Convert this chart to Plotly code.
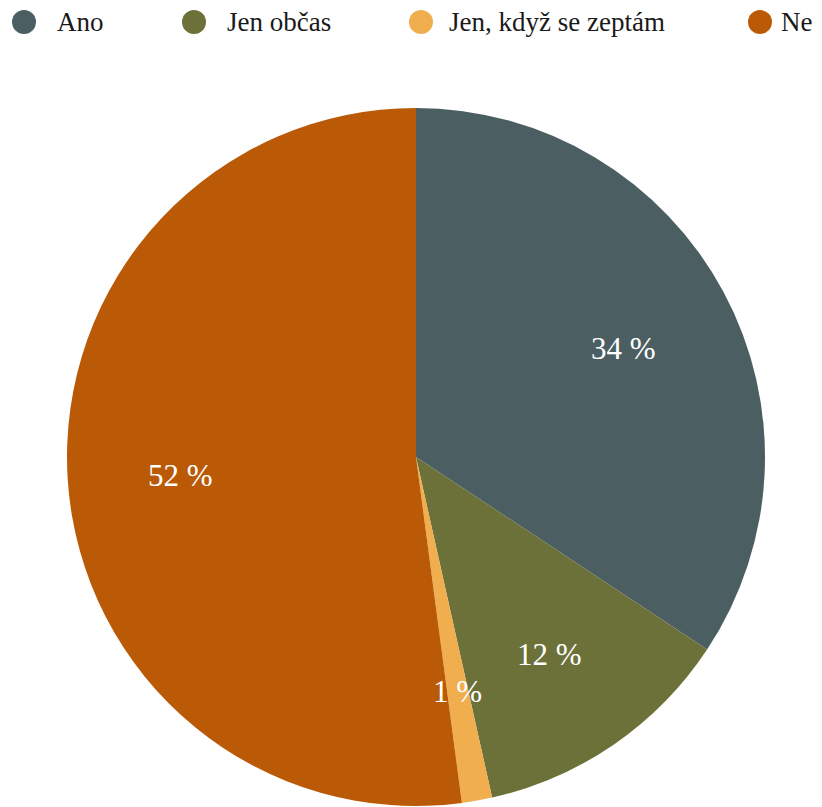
import math
import plotly.graph_objects as go

categories = ["Ano", "Jen občas", "Jen, když se zeptám", "Ne"]
values = [34.3, 12.2, 1.4, 52.1]
colors = ["#4b5f62", "#6b7139", "#f0ae4f", "#bb5a06"]

W, H = 822, 807
OFF = 8  # page body margin
# pie placement (page pixels)
cx, cy, R = 416 - OFF, 457 - OFF, 349
# legend layout (page pixels)
legend_circle_x = [24 - OFF, 194 - OFF, 421 - OFF, 760 - OFF]
legend_text_x = [55 - OFF, 225 - OFF, 447 - OFF, 779 - OFF]
legend_y = 22 - OFF

fig = go.Figure()
fig.add_trace(go.Pie(
    labels=categories, values=values, sort=False, direction="clockwise",
    rotation=0, marker=dict(colors=colors, line=dict(width=0)),
    textinfo="none", hoverinfo="label+percent", showlegend=False,
    domain=dict(x=[(cx - R) / W, (cx + R) / W], y=[1 - (cy + R) / H, 1 - (cy - R) / H]),
))

annotations = []
shapes = []
total = sum(values)
cum = 0.0
for v in values:
    mid = (cum + v / 2) / total * 2 * math.pi
    cum += v
    px = cx + 0.675 * R * math.sin(mid)
    py = cy - 0.675 * R * math.cos(mid) + 3
    annotations.append(dict(
        x=px / W, y=1 - py / H, xref="paper", yref="paper",
        text=f"{v:.0f} %", showarrow=False,
        font=dict(family="Liberation Serif", size=31, color="white"),
        xanchor="center", yanchor="middle",
    ))

for name, col, mx, tx in zip(categories, colors, legend_circle_x, legend_text_x):
    shapes.append(dict(
        type="circle", xref="paper", yref="paper",
        x0=(mx - 12) / W, x1=(mx + 12) / W,
        y0=1 - (legend_y + 12) / H, y1=1 - (legend_y - 12) / H,
        fillcolor=col, line=dict(width=0),
    ))
    annotations.append(dict(
        x=tx / W, y=1 - legend_y / H, xref="paper", yref="paper",
        text=name, showarrow=False, xanchor="left", yanchor="middle",
        font=dict(family="Liberation Serif", size=27, color="#1a1a1a"),
    ))

fig.update_layout(
    width=W, height=H, margin=dict(l=0, r=0, t=0, b=0),
    paper_bgcolor="white", plot_bgcolor="white",
    annotations=annotations, shapes=shapes, showlegend=False,
)
fig.write_html("out.html")
